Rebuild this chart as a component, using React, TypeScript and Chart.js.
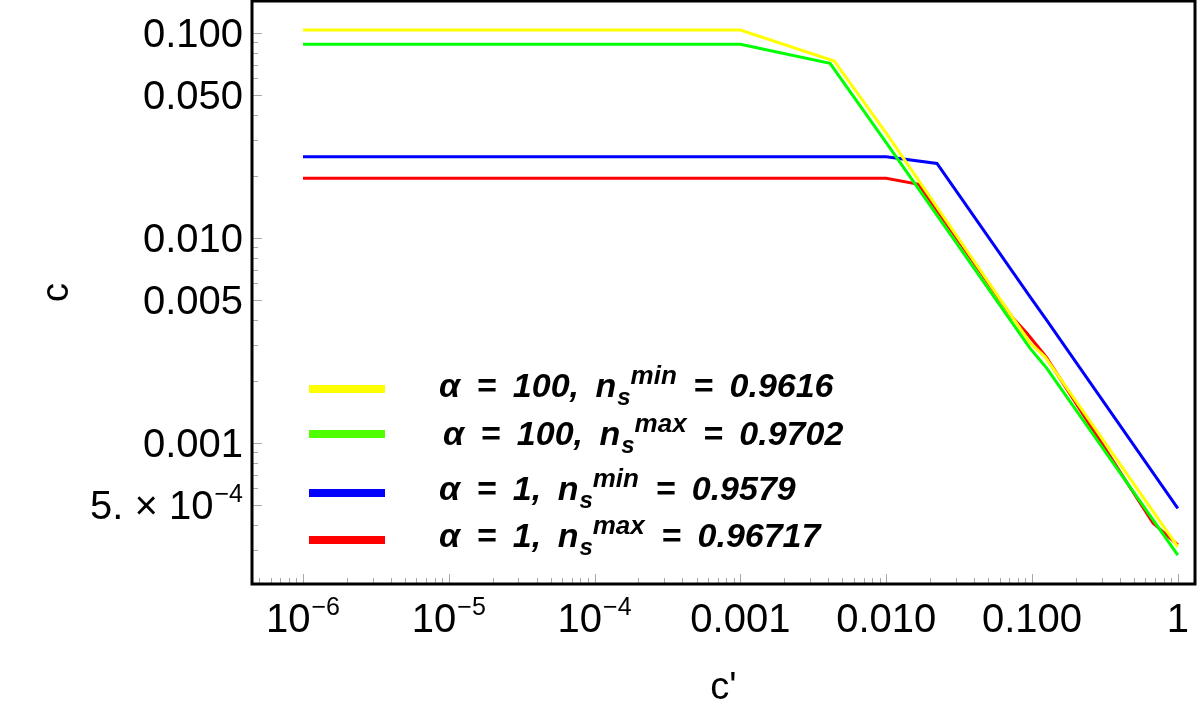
import React, { useEffect, useRef } from "react";
import { Chart, registerables } from "chart.js";

Chart.register(...registerables);

// ---------------- data ----------------
const seriesLabels = [
  "α = 100, n_s^min = 0.9616",
  "α = 100, n_s^max = 0.9702",
  "α = 1, n_s^min = 0.9579",
  "α = 1, n_s^max = 0.96717",
];
const lineColors = ["#ffff00", "#00ff00", "#0000ff", "#ff0000"];
const legendColors = ["#ffff00", "#4dff00", "#0000ff", "#ff0000"];

const yellowX = [1e-6, 1e-3, 0.0044, 0.01, 0.097, 0.123, 1];
const yellowY = [0.1034, 0.1034, 0.073, 0.0325, 0.00308, 0.00263, 0.000311];

const greenX = [1e-6, 1e-3, 0.00412, 0.01, 0.0968, 0.126, 1];
const greenY = [0.0881, 0.0881, 0.0711, 0.0292, 0.0029, 0.00232, 0.000284];

const blueX = [1e-6, 0.01, 0.0223, 0.0968, 0.126, 1];
const blueY = [0.0249, 0.0249, 0.0231, 0.00518, 0.00398, 0.00048];

const redX = [1e-6, 0.01, 0.0167, 0.074, 0.092, 0.125, 0.676, 1];
const redY = [0.01954, 0.01954, 0.01828, 0.00407, 0.00344, 0.00263, 0.000407, 0.000318];

const xTickValues = [1e-6, 1e-5, 1e-4, 1e-3, 1e-2, 1e-1, 1];
const xTickLabels = ["10^−6", "10^−5", "10^−4", "0.001", "0.010", "0.100", "1"];
const yTickValues = [0.1, 0.05, 0.01, 0.005, 0.001, 0.0005];
const yTickLabels = ["0.100", "0.050", "0.010", "0.005", "0.001", "5. × 10^−4"];

const xTitle = "c'";
const yTitle = "c";

const xMin = 4.47e-7;
const xMax = 1.312;
const yMin = 2.052e-4;
const yMax = 0.1432;

// ---------------- drawing helpers ----------------
const FONT = "'Liberation Sans', Arial, Helvetica, sans-serif";

function supWidth(ctx: CanvasRenderingContext2D, label: string, size: number, supSize: number) {
  const [base, sup] = label.split("^");
  ctx.font = `${size}px ${FONT}`;
  let w = ctx.measureText(base).width;
  if (sup) {
    ctx.font = `${supSize}px ${FONT}`;
    w += ctx.measureText(sup).width + 1;
  }
  return w;
}

function drawSupLabel(
  ctx: CanvasRenderingContext2D,
  label: string,
  x: number,
  y: number,
  align: "center" | "right",
) {
  const size = 40;
  const supSize = 25;
  const w = supWidth(ctx, label, size, supSize);
  let sx = align === "center" ? x - w / 2 : x - w;
  const [base, sup] = label.split("^");
  ctx.textAlign = "left";
  ctx.textBaseline = "alphabetic";
  ctx.font = `${size}px ${FONT}`;
  ctx.fillText(base, sx, y);
  sx += ctx.measureText(base).width + 1;
  if (sup) {
    ctx.font = `${supSize}px ${FONT}`;
    ctx.fillText(sup, sx, y - 17);
  }
}

function drawSpaced(ctx: CanvasRenderingContext2D, text: string, x: number, y: number, extra: number) {
  const sw = ctx.measureText(" ").width + extra;
  const words = text.split(" ");
  let cx = x;
  words.forEach((w, i) => {
    if (i > 0) cx += sw;
    if (w) {
      ctx.fillText(w, cx, y);
      cx += ctx.measureText(w).width;
    }
  });
  return cx;
}

function drawLegendText(ctx: CanvasRenderingContext2D, label: string, x: number, y: number) {
  const m = label.match(/^(.*)_(\w)\^(\w+)(.*)$/);
  if (!m) return;
  const [, main, sub, sup, rest] = m;
  ctx.textAlign = "left";
  ctx.textBaseline = "alphabetic";
  ctx.fillStyle = "#000";
  ctx.font = `italic bold 34px ${FONT}`;
  let cx = drawSpaced(ctx, main, x, y, 7);
  ctx.font = `italic bold 24px ${FONT}`;
  ctx.fillText(sub, cx + 1, y + 8);
  cx += ctx.measureText(sub).width + 1;
  ctx.font = `italic bold 26px ${FONT}`;
  ctx.fillText(sup, cx, y - 13);
  cx += ctx.measureText(sup).width;
  ctx.font = `italic bold 34px ${FONT}`;
  drawSpaced(ctx, rest, cx, y, 7);
}

const decorPlugin = {
  id: "decor",
  beforeDraw(chart: any) {
    const ctx = chart.ctx;
    ctx.save();
    ctx.fillStyle = "#fff";
    ctx.fillRect(0, 0, chart.width, chart.height);
    ctx.restore();
  },
  afterDatasetsDraw(chart: any) {
    const ctx: CanvasRenderingContext2D = chart.ctx;
    const { left, right, top, bottom } = chart.chartArea;
    const xs = chart.scales.x;
    const ys = chart.scales.y;
    ctx.save();
    ctx.strokeStyle = "#a8a8a8";
    ctx.lineWidth = 1;
    // x ticks (inward from bottom)
    for (let d = -7; d <= 0; d++) {
      for (let k = 1; k <= 9; k++) {
        const v = k * Math.pow(10, d);
        if (v < xMin || v > xMax) continue;
        const major = xTickValues.some((t) => Math.abs(t - v) / t < 1e-6);
        const px = Math.round(xs.getPixelForValue(v)) + 0.5;
        ctx.beginPath();
        ctx.moveTo(px, bottom);
        ctx.lineTo(px, bottom - (major ? 10 : 6));
        ctx.stroke();
      }
    }
    // y ticks (inward from left)
    for (let d = -4; d <= -1; d++) {
      for (let k = 1; k <= 9; k++) {
        const v = k * Math.pow(10, d);
        if (v < yMin || v > yMax) continue;
        const major = yTickValues.some((t) => Math.abs(t - v) / t < 1e-6);
        const py = Math.round(ys.getPixelForValue(v)) + 0.5;
        ctx.beginPath();
        ctx.moveTo(left, py);
        ctx.lineTo(left + (major ? 10 : 6), py);
        ctx.stroke();
      }
    }
    // frame
    ctx.strokeStyle = "#000";
    ctx.lineWidth = 3;
    ctx.strokeRect(left, top, right - left, bottom - top);
    ctx.restore();
  },
  afterDraw(chart: any) {
    const ctx: CanvasRenderingContext2D = chart.ctx;
    const { left, right, top, bottom } = chart.chartArea;
    const xs = chart.scales.x;
    const ys = chart.scales.y;
    ctx.save();
    ctx.fillStyle = "#000";
    // tick labels
    xTickValues.forEach((v, i) => {
      drawSupLabel(ctx, xTickLabels[i], xs.getPixelForValue(v), bottom + 48, "center");
    });
    yTickValues.forEach((v, i) => {
      drawSupLabel(ctx, yTickLabels[i], left - 9, ys.getPixelForValue(v) + 14.5, "right");
    });
    // axis titles
    ctx.font = `38px ${FONT}`;
    ctx.textAlign = "center";
    ctx.textBaseline = "alphabetic";
    ctx.fillText(xTitle, (left + right) / 2, bottom + 115);
    ctx.save();
    ctx.translate(68, (top + bottom) / 2);
    ctx.rotate(-Math.PI / 2);
    ctx.fillText(yTitle, 0, 0);
    ctx.restore();
    // legend
    const rowY = [389, 434, 493, 540];
    const textY = [397, 445, 500, 547];
    const textX = [439, 443, 439, 439];
    seriesLabels.forEach((lab, i) => {
      ctx.strokeStyle = legendColors[i];
      ctx.lineWidth = 8;
      ctx.beginPath();
      ctx.moveTo(309, rowY[i]);
      ctx.lineTo(385, rowY[i]);
      ctx.stroke();
      drawLegendText(ctx, lab, textX[i], textY[i]);
    });
    ctx.restore();
  },
};

function toPoints(xs: number[], ys: number[]) {
  return xs.map((x, i) => ({ x, y: ys[i] }));
}

export default function App() {
  const ref = useRef<HTMLCanvasElement | null>(null);
  useEffect(() => {
    if (!ref.current) return;
    const series = [
      toPoints(yellowX, yellowY),
      toPoints(greenX, greenY),
      toPoints(blueX, blueY),
      toPoints(redX, redY),
    ];
    const chart = new Chart(ref.current, {
      type: "line",
      data: {
        datasets: series.map((pts, i) => ({
          label: seriesLabels[i],
          data: pts,
          borderColor: lineColors[i],
          backgroundColor: lineColors[i],
          borderWidth: 3,
          pointRadius: 0,
          tension: 0,
          fill: false,
          order: i + 1,
        })),
      },
      options: {
        animation: false,
        responsive: false,
        events: [],
        layout: { padding: { left: 252, top: 1, right: 5, bottom: 139 } },
        plugins: { legend: { display: false }, tooltip: { enabled: false } },
        scales: {
          x: { type: "logarithmic", min: xMin, max: xMax, display: false },
          y: { type: "logarithmic", min: yMin, max: yMax, display: false },
        },
      },
      plugins: [decorPlugin],
    });
    return () => chart.destroy();
  }, []);
  return (
    <div style={{ position: "fixed", left: 0, top: 0, width: 1200, height: 723, background: "#fff" }}>
      <canvas ref={ref} width={1200} height={723} style={{ display: "block" }} />
    </div>
  );
}
